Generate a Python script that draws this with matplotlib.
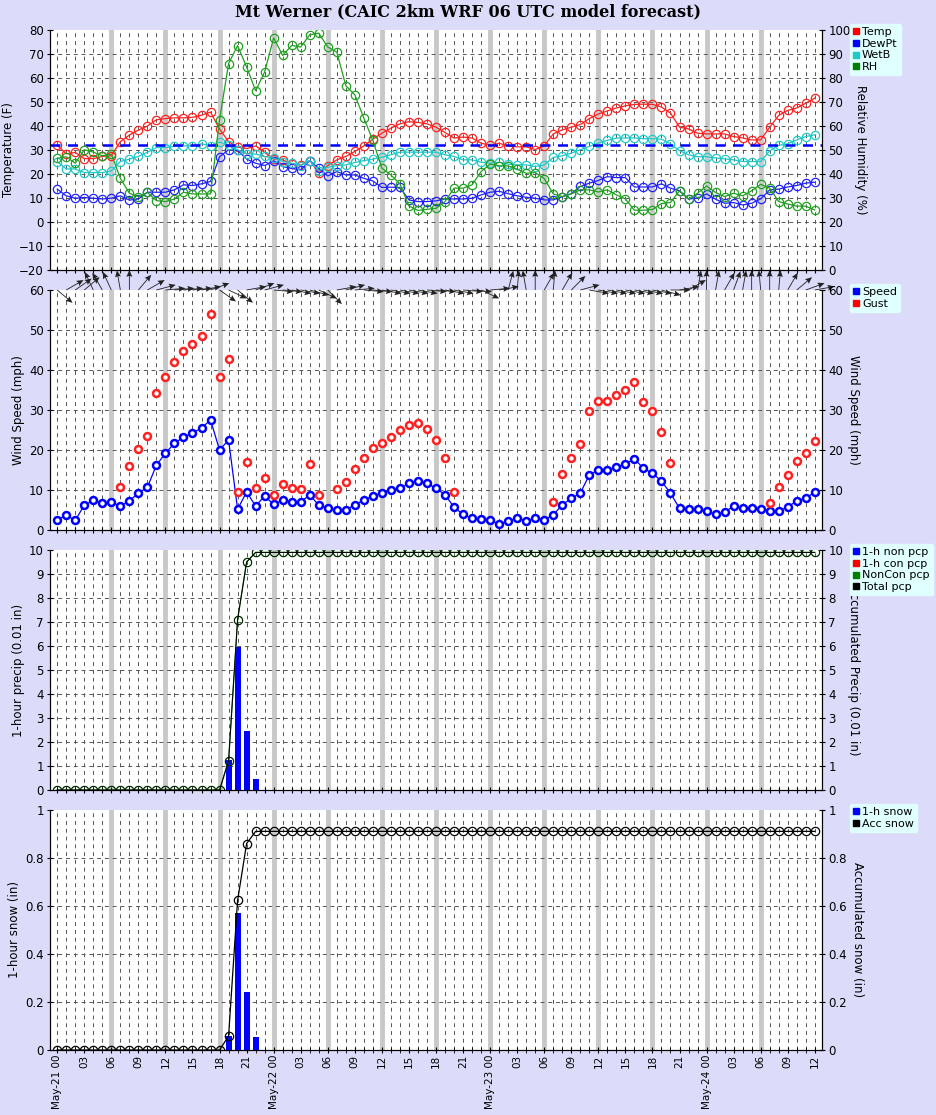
import matplotlib
matplotlib.use("Agg")
import matplotlib.pyplot as plt
from matplotlib.lines import Line2D
import numpy as np

nan = np.nan
hours = np.arange(85)

temp = [32, 28.4, 29, 26.4, 26.4, 27.3, 27.6, 33.5, 36.2, 38.3, 40, 42.6, 43.1, 43.4, 43.4, 43.6, 44.5, 45.8,
        38.7, 33.5, 31.2, 30.6, 31.7, 29, 26.2, 25.9, 24.2, 23.7, 25.6, 20.6, 23.5, 25.9, 27.3, 29.4, 31.7, 34.5,
        37, 39.1, 40.9, 41.8, 41.5, 40.9, 39.5, 37.3, 35,
        35.4, 35, 32.8, 32, 32.8, 31.7, 31.3, 31.3, 30.2, 31.7, 36.7, 38.4, 39.5, 40.6, 43.1, 45, 46.3, 47.5, 48.4, 49,
        49.1, 49, 47.9, 45.4, 39.5, 38.8, 37, 36.7, 36.7, 36.7, 35.6, 35, 34.2, 34.2, 39.5, 44.4, 46.5, 47.5, 49.5, 51.6]
dewpt = [13.7, 10.9, 9.9, 10.2, 9.9, 9.6, 9.9, 10.9, 9.1, 9.6, 12.4, 12.4, 12.4, 13.4, 15.5, 15.2, 15.9, 16.9, 27.2, 30.1,
         29.8, 26.2, 24.5, 23.5, 25.5, 23.1, 22.3, 21.7, 25.6, 22.3, 19.2, 21, 19.6, 19.6, 18.2, 17.1, 14.4, 14.5, 14.4, 9.2,
         8.5, 8.5, 8.8, 9.6, 9.6,
         9.6, 9.9, 11.3, 12.4, 12.8, 11.8, 10.9, 10.3, 9.9, 9.2, 9.2, 10.5, 11.8, 14.8, 16.2, 17.3, 18.9, 18.5, 18.5, 14.6,
         14.6, 14.6, 15.9, 14.1, 13, 9.6, 9.9, 11.7, 9.5, 7.8, 8.1, 7.1, 7.8, 9.6, 13.4, 13.7, 14.6, 15.2, 16.2, 16.6]
wetb = [25.2, 22.1, 22.1, 20.6, 20.6, 20.6, 21.3, 25.2, 26.2, 27.3, 29.1, 31, 31, 31.5, 31.7, 31.7, 32.6, 31.7, 33.3, 32.2,
        30.1, 28.4, 28.3, 27.3, 26.6, 25.2, 24.5, 23.5, 25.6, 21.4, 22.8, 23.5, 23.8, 24.8, 25.6, 26.2, 27, 28, 29.1, 29.1,
        29.1, 29.1, 29.1, 28, 27.3,
        25.9, 25.9, 24.9, 24.5, 24.9, 24.1, 23.8, 23.8, 23.1, 23.8, 26.9, 27.6, 28.7, 30.1, 31.5, 32.9, 34, 35, 35, 35,
        34.7, 34.7, 34.5, 32.6, 29.7, 28, 27.2, 27.2, 26.7, 26.3, 25.9, 25.2, 25.2, 25.2, 29.7, 31.9, 32.6, 34.2, 35.6, 36.3]
rh = [46.5, 47.2, 44.5, 50.1, 49.1, 47.6, 48.3, 38.2, 32, 30.6, 32.3, 28.9, 28.5, 29.6, 32.4, 31.7, 31.7, 31.7, 62.6, 86,
      93.5, 84.6, 74.7, 82.5, 96.7, 89.4, 93.6, 92.9, 98, 98.7, 92.9, 90.8, 76.8, 73, 63.3, 54, 42.4, 39.6, 35.9, 26.7,
      24.8, 25.3, 25.7, 28.5, 34.1,
      34.1, 35.5, 41, 44.1, 43.4, 43.4, 42, 40.3, 40.6, 38.1, 31.7, 30.6, 31.7, 33.4, 33.4, 32.5, 33.4, 31.3, 29.6, 24.9,
      24.9, 25.2, 27.7, 28.1, 33, 29.5, 32, 35, 32.3, 30.6, 32, 30.9, 33, 35.7, 34.1, 28.5, 27.5, 26.6, 26.6, 25]

speed = [2.5, 3.7, 2.4, 6.2, 7.4, 6.7, 6.9, 6, 7.3, 9.2, 10.7, 16.2, 19.2, 21.7, 23.2, 24.2, 25.5, 27.5, 20, 22.5,
         5.2, 9.5, 6, 8.5, 6.4, 7.5, 7, 7, 8.8, 6.2, 5.4, 5, 5, 6.3, 7.5, 8.5, 9.2, 10, 10.4, 11.7, 12.2, 11.7, 10.4, 8.8, 5.7,
         3.9, 2.9, 2.8, 2.5, 1.4, 2.3, 2.9, 2.3, 2.9, 2.5, 3.8, 6.3, 7.9, 9.2, 13.8, 15, 15, 15.7, 16.5, 17.8,
         15.4, 14.2, 12.2, 9.2, 5.4, 5.2, 5.2, 4.8, 3.9, 4.4, 6, 5.4, 5.4, 5.2, 4.8, 4.8, 5.7, 7.3, 7.9, 9.5]
gust = [nan, nan, nan, nan, nan, nan, nan, 10.8, 16, 20.3, 23.5, 34.2, 38.2, 42, 44.7, 46.5, 48.5, 54, 38.2, 42.7,
        9.5, 16.9, 10.4, 12.9, 8.7, 11.4, 10.4, 10.2, 16.4, 8.7, nan, 10.2, 12, 15.2, 17.9, 20.4, 21.7, 23.2, 25, 26.2,
        26.7, 25.3, 22.5, 17.9, 9.4,
        nan, nan, nan, nan, nan, nan, nan, nan, nan, nan, 6.9, 13.9, 17.9, 21.5, 29.7, 32.2, 32.2, 33.7, 35, 37,
        32, 29.7, 24.5, 16.7, nan, nan, nan, nan, nan, nan, nan, nan, nan, nan, 6.7, 10.7, 13.7, 17.2, 19.2, 22.2]
# wind arrow direction on the chart (degrees, counter-clockwise from east)
wdir = [-40, 30, 35, 40, 115, 120, 115, 100, 90, 50, 30, 15, 5, 5, 5, 5, 10, 20, -35, -25,
        -40, 10, 20, 15, -5, -5, -10, -10, -15, -25, -45, 10, 15, 5, -5, -5, -10, -10, -10, -10,
        -10, -5, -5, -10, -10, -5, -5, -25, 5, 10, 75, 85, 100, 90, 60, 85, 60, 45, 15, -10,
        -10, -10, -10, -10, -10, -10, -10, -15, 0, 10, 30, 80, 90, 80, 60, 70, 80, 90, 95, 90,
        85, 60, 40, 20, 10]

pcp_hours = [19, 20, 21, 22]
pcp_1h = [1.25, 5.95, 2.45, 0.45]
pcp_acc_vals = [1.22, 7.1, 9.5, 9.9]
snow_1h = [0.058, 0.57, 0.24, 0.053]
snow_acc_vals = [0.058, 0.623, 0.86, 0.911]

pcp_acc = np.zeros(85)
snow_acc = np.zeros(85)
pcp_acc[19:23] = pcp_acc_vals
pcp_acc[23:] = pcp_acc_vals[-1]
snow_acc[19:23] = snow_acc_vals
snow_acc[23:] = snow_acc_vals[-1]

tick_labels = ["May-21 00", "03", "06", "09", "12", "15", "18", "21",
               "May-22 00", "03", "06", "09", "12", "15", "18", "21",
               "May-23 00", "03", "06", "09", "12", "15", "18", "21",
               "May-24 00", "03", "06", "09", "12"]

FS = 8.5
BG = "#dcdcfa"
fig = plt.figure(figsize=(9.37, 11.15), dpi=100, facecolor=BG)
W, H = 937, 1115
L, R = 50, 822
panels = [(30, 270), (290, 530), (550, 790), (810, 1050)]
axes = []
for top, bot in panels:
    ax = fig.add_axes([L / W, 1 - bot / H, (R - L) / W, (bot - top) / H])
    axes.append(ax)

fig.text(0.5, 1 - 12 / H, "Mt Werner (CAIC 2km WRF 06 UTC model forecast)", ha="center", va="center",
         fontsize=11.5, fontweight="bold", family="DejaVu Serif")


def style(ax, yticks):
    ax.set_xlim(-0.8, 84.8)
    ax.set_facecolor("white")
    ax.spines["top"].set_visible(False)
    for h in hours:
        if h % 6 == 0 and 0 < h < 84:
            ax.axvline(h, color="#c8c8c8", lw=3.5, zorder=0)
        else:
            ax.axvline(h, color="#555555", lw=0.7, ls=(0, (4, 4)), zorder=0)
    for y in yticks[1:-1]:
        ax.axhline(y, color="#555555", lw=0.7, ls=(0, (4, 4)), zorder=0)
    ax.set_yticks(yticks)
    ax.set_xticks(hours)
    ax.tick_params(axis="x", direction="inout", length=5, labelbottom=False)
    ax.tick_params(axis="y", direction="inout", length=5, labelsize=FS, pad=2)


def twin(ax, lo, hi, ticks, label):
    ax2 = ax.twinx()
    ax2.set_ylim(lo, hi)
    ax2.set_yticks(ticks)
    ax2.tick_params(direction="inout", length=5, labelsize=FS, pad=2)
    ax2.spines["top"].set_visible(False)
    ax2.set_ylabel(label, rotation=270, labelpad=12, fontsize=FS)
    return ax2


def legend(ax, items):
    hs = [Line2D([], [], ls="none", marker="s", ms=5, color=c) for _, c in items]
    ax.legend(hs, [n for n, _ in items], loc="upper left", bbox_to_anchor=(1.033, 1.035),
              frameon=True, fontsize=8, handlelength=0.5, handletextpad=0.3,
              borderpad=0.3, labelspacing=0.15, borderaxespad=0.2,
              facecolor="#e0ffff", edgecolor="#e0ffff", framealpha=1)


mk = dict(marker="o", mfc="none", ms=6, mew=0.9, lw=0.9)

# Panel 1: temperature
ax = axes[0]
style(ax, np.arange(-20, 81, 10))
ax.set_ylim(-20, 80)
ax.axhline(32, color="blue", lw=1.8, ls=(0, (4, 3)), zorder=3)
ax.plot(hours, temp, color="#ff2020", **mk)
ax.plot(hours, dewpt, color="#2020ff", **mk)
ax.plot(hours, wetb, color="#20c8c8", **mk)
ax.set_ylabel("Temperature (F)", fontsize=FS, labelpad=3)
ax2 = twin(ax, 0, 100, np.arange(0, 101, 10), "Relative Humidity (%)")
ax2.plot(hours, rh, color="#20a020", **mk)
legend(ax2, [("Temp", "red"), ("DewPt", "blue"), ("WetB", "#20c8c8"), ("RH", "green")])

# Panel 2: wind
ax = axes[1]
style(ax, np.arange(0, 61, 10))
ax.set_ylim(0, 60)
ax.plot(hours, speed, color="blue", marker="o", mfc="white", ms=5, mew=1.8, lw=0.9)
ax.plot(hours, gust, color="#ff2020", ls="none", marker="o", mfc="white", ms=5, mew=1.8)
rad = np.radians(wdir)
q = ax.quiver(hours, np.full(85, 60.0), np.cos(rad), np.sin(rad), angles="uv", scale_units="inches",
              scale=5, width=0.0011, headwidth=7, headlength=8, headaxislength=7, color="#222222",
              zorder=5, pivot="tail")
q.set_clip_on(False)
ax.set_ylabel("Wind Speed (mph)", fontsize=FS, labelpad=3)
ax2 = twin(ax, 0, 60, np.arange(0, 61, 10), "Wind Speed (mph)")
legend(ax2, [("Speed", "blue"), ("Gust", "red")])

# Panel 3: precip
ax = axes[2]
style(ax, np.arange(0, 11, 1))
ax.set_ylim(0, 10)
ax.bar(pcp_hours, pcp_1h, width=0.65, color="blue", zorder=2)
ax.set_ylabel("1-hour precip (0.01 in)", fontsize=FS, labelpad=3)
ax2 = twin(ax, 0, 10, np.arange(0, 11, 1), "Accumulated Precip (0.01 in)")
ax2.plot(hours, pcp_acc, color="#208020", **mk)
ax2.plot(hours, pcp_acc, color="black", marker="o", mfc="none", ms=6, mew=0.5, lw=0.7)
legend(ax2, [("1-h non pcp", "blue"), ("1-h con pcp", "red"), ("NonCon pcp", "green"), ("Total pcp", "black")])

# Panel 4: snow
sticks = np.arange(0, 1.01, 0.2)
slabels = ["0", "0.2", "0.4", "0.6", "0.8", "1"]
ax = axes[3]
style(ax, sticks)
ax.set_ylim(0, 1)
ax.set_yticklabels(slabels)
ax.bar(pcp_hours, snow_1h, width=0.65, color="blue", zorder=2)
ax.set_ylabel("1-hour snow (in)", fontsize=FS, labelpad=3)
ax2 = twin(ax, 0, 1, sticks, "Accumulated snow (in)")
ax2.set_yticklabels(slabels)
ax2.plot(hours, snow_acc, color="black", **mk)
legend(ax2, [("1-h snow", "blue"), ("Acc snow", "black")])

ax.set_xticks(hours[::3], labels=tick_labels, minor=False)
ax.set_xticks(hours, minor=True)
ax.tick_params(axis="x", which="both", direction="inout", length=5, labelbottom=True,
               labelrotation=90, labelsize=7.5, pad=1)

fig.savefig("out.png", dpi=100, facecolor=BG)
